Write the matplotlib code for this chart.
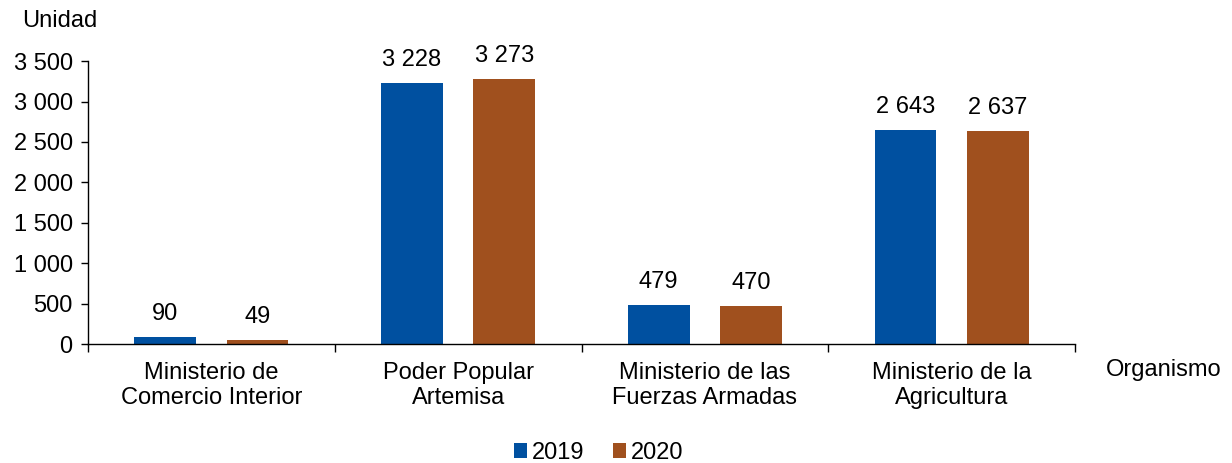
import matplotlib
matplotlib.use("Agg")
import matplotlib.pyplot as plt
import numpy as np
from matplotlib.ticker import FuncFormatter, FixedLocator

plt.rcParams['font.family'] = ['Liberation Sans', 'DejaVu Sans']

categories = ["Ministerio de\nComercio Interior", "Poder Popular\nArtemisa",
              "Ministerio de las\nFuerzas Armadas", "Ministerio de la\nAgricultura"]
series_names = ["2019", "2020"]
values_2019 = [90, 3228, 479, 2643]
values_2020 = [49, 3273, 470, 2637]
colors = ["#0050A0", "#A0501E"]

FS = 17

def fmt(v, pos=None):
    return f"{int(v):,}".replace(",", " ")

fig = plt.figure(figsize=(12.32, 4.63), dpi=100)
ax = fig.add_axes([0.0714, 0.257, 0.8012, 0.611])

x = np.arange(len(categories))
w = 0.25
off = 0.187
for i, (vals, name, c) in enumerate(zip([values_2019, values_2020], series_names, colors)):
    pos = x + (-off if i == 0 else off)
    ax.bar(pos, vals, width=w, color=c, label=name)
    for xb, v in zip(pos, vals):
        ax.text(xb, v + 150, fmt(v), ha='center', va='bottom', fontsize=FS)

ax.set_xlim(-0.5, len(categories) - 0.5)
ax.set_ylim(0, 3500)
ax.set_yticks(np.arange(0, 3501, 500))
ax.yaxis.set_major_formatter(FuncFormatter(fmt))
ax.tick_params(axis='y', labelsize=FS, length=5, width=1, direction='out', pad=6)

ax.xaxis.set_major_locator(FixedLocator(np.arange(-0.5, len(categories), 1.0)))
ax.xaxis.set_minor_locator(FixedLocator(x))
ax.set_xticklabels([])
ax.set_xticklabels(categories, minor=True)
ax.tick_params(axis='x', which='major', length=6, width=1, direction='out')
ax.tick_params(axis='x', which='minor', length=0, labelsize=FS, pad=13)
for t in ax.get_xticklabels(minor=True):
    t.set_linespacing(1.2)

for s in ['top', 'right']:
    ax.spines[s].set_visible(False)
for s in ['left', 'bottom']:
    ax.spines[s].set_color('black')
    ax.spines[s].set_linewidth(1)

fig.text(0.018, 0.955, "Unidad", fontsize=FS, ha='left', va='center')
fig.text(0.898, 0.2, "Organismo", fontsize=FS, ha='left', va='center')

leg = fig.legend(loc='center', bbox_to_anchor=(0.486, 0.022), ncol=2, frameon=False,
                 fontsize=FS, handlelength=0.55, handleheight=0.55, handletextpad=0.2,
                 columnspacing=1.2)

fig.savefig("out.png", dpi=100)
